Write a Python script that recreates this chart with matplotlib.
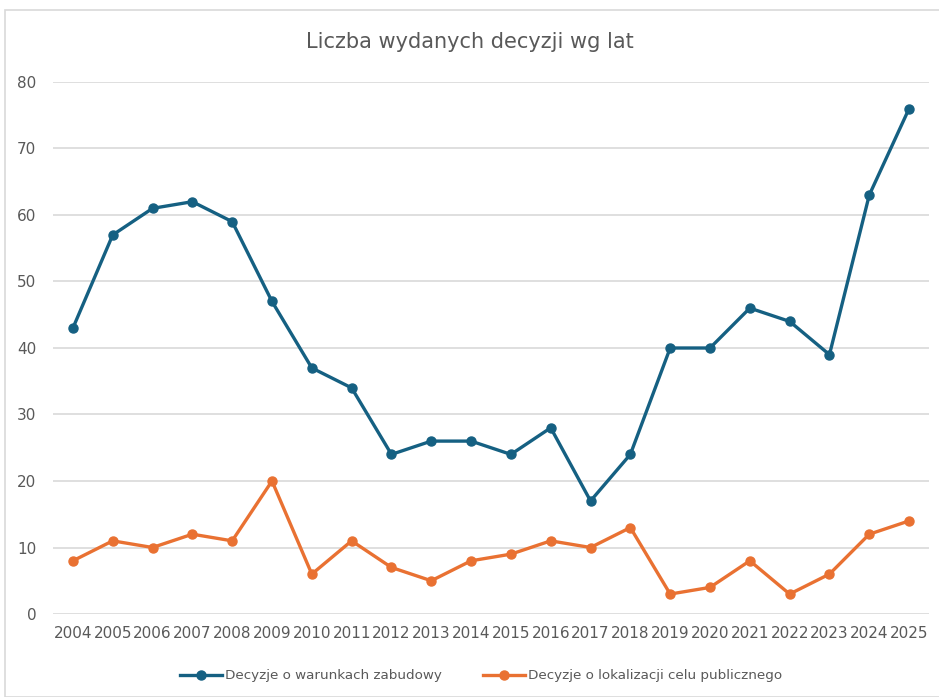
import matplotlib.pyplot as plt
from matplotlib.patches import Rectangle

# Dane
lata = [str(r) for r in range(2004, 2026)]
warunki_zabudowy = [43, 57, 61, 62, 59, 47, 37, 34, 24, 26, 26, 24, 28, 17, 24, 40, 40, 46, 44, 39, 63, 76]
celu_publicznego = [8, 11, 10, 12, 11, 20, 6, 11, 7, 5, 8, 9, 11, 10, 13, 3, 4, 8, 3, 6, 12, 14]
yticks = [0, 10, 20, 30, 40, 50, 60, 70, 80]

plt.rcParams['font.family'] = ['Liberation Sans Narrow', 'DejaVu Sans']
szary = '#595959'

fig = plt.figure(figsize=(9.39, 6.97), dpi=100)
fig.patches.append(Rectangle((5 / 939, 0), 1, 1 - 10 / 697, transform=fig.transFigure,
                             fill=False, edgecolor='#D9D9D9', linewidth=1.2))
ax = fig.add_axes([53 / 939, 1 - 614 / 697, 876 / 939, (614 - 82) / 697])

x = range(len(lata))
ax.plot(x, warunki_zabudowy, color='#156082', linewidth=2.4, marker='o', markersize=6.5,
        label='Decyzje o warunkach zabudowy', zorder=3)
ax.plot(x, celu_publicznego, color='#E97132', linewidth=2.4, marker='o', markersize=6.5,
        label='Decyzje o lokalizacji celu publicznego', zorder=3)

ax.set_xlim(-0.5, len(lata) - 0.5)
ax.set_ylim(0, 80)
ax.set_yticks(yticks)
ax.set_xticks(list(x))
ax.set_xticklabels(lata)
ax.grid(axis='y', color='#D9D9D9', linewidth=1.2)
ax.set_axisbelow(True)
for s in ax.spines.values():
    s.set_visible(False)
ax.tick_params(length=0, colors=szary, labelsize=11)
ax.tick_params(axis='y', pad=12)
ax.tick_params(axis='x', pad=9)

fig.text(0.5, 1 - 42 / 697, 'Liczba wydanych decyzji wg lat', ha='center', va='center',
         fontsize=15, color=szary)

fig.legend(loc='center', bbox_to_anchor=(481 / 939, 1 - 676 / 697), ncol=2, frameon=False,
           fontsize=9.7, labelcolor=szary, handlelength=3.1, handletextpad=0.2,
           columnspacing=3.1)

fig.savefig('out.png', dpi=100)
